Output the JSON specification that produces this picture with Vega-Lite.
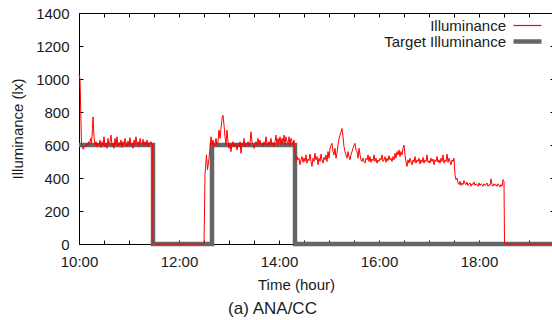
{
"$schema": "https://vega.github.io/schema/vega-lite/v6.json",
"width": 475, "height": 231,
"autosize": {"type": "none"},
"padding": {"left": 79, "top": 13, "right": 0, "bottom": 76},
"background": "white",
"config": {
  "view": {"stroke": null},
  "font": "Liberation Sans",
  "axis": {"labelFont": "Liberation Sans", "labelFontSize": 15, "labelColor": "#1a1a1a", "titleFont": "Liberation Sans", "titleFontSize": 15, "titleFontWeight": "normal", "titleColor": "#1a1a1a", "domainColor": "#000", "tickColor": "#000", "grid": false, "tickSize": -4, "domainWidth": 1, "tickWidth": 1, "labelFlush": false}
},
"title": {"text": "(a) ANA/CC", "orient": "bottom", "anchor": "middle", "frame": "group", "fontSize": 17, "fontWeight": "normal", "font": "Liberation Sans", "color": "#1a1a1a", "dx": -44, "offset": 9},
"datasets": {
"target": [{"t":10,"v":600},{"t":11.48,"v":0},{"t":12.66,"v":600},{"t":14.32,"v":0},{"t":19.5,"v":0}],
"illum": [
{"t":10.00,"v":1030},{"t":10.02,"v":1000},{"t":10.05,"v":600},{"t":10.07,"v":580},{"t":10.09,"v":575},{"t":10.11,"v":600},{"t":10.13,"v":590},{"t":10.15,"v":610},{"t":10.17,"v":595},{"t":10.19,"v":620},{"t":10.21,"v":600},{"t":10.23,"v":640},{"t":10.25,"v":610},{"t":10.27,"v":700},{"t":10.28,"v":770},{"t":10.30,"v":650},{"t":10.32,"v":600},{"t":10.34,"v":620},{"t":10.36,"v":590},{"t":10.38,"v":610},{"t":10.40,"v":600},{"t":10.42,"v":630},{"t":10.44,"v":585},{"t":10.46,"v":620},{"t":10.48,"v":600},{"t":10.50,"v":650},{"t":10.52,"v":590},{"t":10.54,"v":610},{"t":10.56,"v":580},{"t":10.58,"v":640},{"t":10.60,"v":600},{"t":10.62,"v":620},{"t":10.64,"v":660},{"t":10.66,"v":595},{"t":10.68,"v":610},{"t":10.70,"v":580},{"t":10.72,"v":640},{"t":10.74,"v":600},{"t":10.76,"v":650},{"t":10.78,"v":590},{"t":10.80,"v":615},{"t":10.82,"v":600},{"t":10.84,"v":630},{"t":10.86,"v":585},{"t":10.88,"v":620},{"t":10.90,"v":600},{"t":10.92,"v":640},{"t":10.94,"v":610},{"t":10.96,"v":590},{"t":10.98,"v":625},{"t":11.00,"v":600},{"t":11.02,"v":645},{"t":11.04,"v":595},{"t":11.06,"v":610},{"t":11.08,"v":580},{"t":11.10,"v":630},{"t":11.12,"v":600},{"t":11.14,"v":650},{"t":11.16,"v":605},{"t":11.18,"v":620},{"t":11.20,"v":590},{"t":11.22,"v":640},{"t":11.24,"v":610},{"t":11.26,"v":600},{"t":11.28,"v":635},{"t":11.30,"v":595},{"t":11.32,"v":620},{"t":11.34,"v":600},{"t":11.36,"v":630},{"t":11.38,"v":590},{"t":11.40,"v":615},{"t":11.42,"v":605},{"t":11.44,"v":620},{"t":11.46,"v":600},{"t":11.47,"v":610},{"t":11.48,"v":0},
{"t":12.50,"v":0},{"t":12.52,"v":420},{"t":12.55,"v":540},{"t":12.57,"v":450},{"t":12.60,"v":520},{"t":12.62,"v":580},{"t":12.64,"v":650},{"t":12.66,"v":600},{"t":12.68,"v":630},{"t":12.70,"v":590},{"t":12.72,"v":610},{"t":12.74,"v":640},{"t":12.76,"v":600},{"t":12.78,"v":620},{"t":12.80,"v":690},{"t":12.82,"v":640},{"t":12.84,"v":700},{"t":12.86,"v":760},{"t":12.88,"v":780},{"t":12.90,"v":720},{"t":12.92,"v":650},{"t":12.94,"v":600},{"t":12.96,"v":690},{"t":12.98,"v":620},{"t":13.00,"v":580},{"t":13.02,"v":610},{"t":13.04,"v":560},{"t":13.06,"v":600},{"t":13.08,"v":620},{"t":13.10,"v":590},{"t":13.12,"v":610},{"t":13.14,"v":600},{"t":13.16,"v":570},{"t":13.18,"v":610},{"t":13.20,"v":590},{"t":13.22,"v":620},{"t":13.24,"v":550},{"t":13.26,"v":610},{"t":13.28,"v":600},{"t":13.30,"v":640},{"t":13.32,"v":590},{"t":13.34,"v":610},{"t":13.36,"v":600},{"t":13.38,"v":620},{"t":13.40,"v":595},{"t":13.42,"v":610},{"t":13.44,"v":680},{"t":13.46,"v":620},{"t":13.48,"v":600},{"t":13.50,"v":580},{"t":13.52,"v":610},{"t":13.54,"v":620},{"t":13.56,"v":600},{"t":13.58,"v":640},{"t":13.60,"v":605},{"t":13.62,"v":630},{"t":13.64,"v":600},{"t":13.66,"v":610},{"t":13.68,"v":590},{"t":13.70,"v":620},{"t":13.72,"v":600},{"t":13.74,"v":650},{"t":13.76,"v":610},{"t":13.78,"v":595},{"t":13.80,"v":620},{"t":13.82,"v":600},{"t":13.84,"v":640},{"t":13.86,"v":600},{"t":13.88,"v":615},{"t":13.90,"v":590},{"t":13.92,"v":620},{"t":13.94,"v":660},{"t":13.96,"v":600},{"t":13.98,"v":640},{"t":14.00,"v":610},{"t":14.02,"v":650},{"t":14.04,"v":600},{"t":14.06,"v":640},{"t":14.08,"v":610},{"t":14.10,"v":660},{"t":14.12,"v":600},{"t":14.14,"v":650},{"t":14.16,"v":620},{"t":14.18,"v":610},{"t":14.20,"v":650},{"t":14.22,"v":600},{"t":14.24,"v":640},{"t":14.26,"v":620},{"t":14.28,"v":600},{"t":14.30,"v":630},
{"t":14.32,"v":560},{"t":14.34,"v":500},{"t":14.36,"v":530},{"t":14.38,"v":510},{"t":14.40,"v":520},{"t":14.42,"v":480},{"t":14.44,"v":510},{"t":14.46,"v":530},{"t":14.48,"v":495},{"t":14.50,"v":520},{"t":14.52,"v":500},{"t":14.54,"v":540},{"t":14.56,"v":490},{"t":14.58,"v":515},{"t":14.60,"v":505},{"t":14.62,"v":545},{"t":14.64,"v":500},{"t":14.66,"v":470},{"t":14.68,"v":520},{"t":14.70,"v":500},{"t":14.72,"v":550},{"t":14.74,"v":510},{"t":14.76,"v":530},{"t":14.78,"v":480},{"t":14.80,"v":520},{"t":14.82,"v":500},{"t":14.84,"v":545},{"t":14.86,"v":510},{"t":14.88,"v":490},{"t":14.90,"v":525},{"t":14.92,"v":510},{"t":14.94,"v":540},{"t":14.96,"v":500},{"t":14.98,"v":560},{"t":15.00,"v":520},{"t":15.02,"v":580},{"t":15.04,"v":600},{"t":15.06,"v":610},{"t":15.08,"v":560},{"t":15.10,"v":540},{"t":15.12,"v":580},{"t":15.14,"v":520},{"t":15.16,"v":550},{"t":15.18,"v":600},{"t":15.20,"v":640},{"t":15.22,"v":660},{"t":15.24,"v":680},{"t":15.26,"v":700},{"t":15.28,"v":650},{"t":15.30,"v":590},{"t":15.32,"v":560},{"t":15.34,"v":540},{"t":15.36,"v":520},{"t":15.38,"v":560},{"t":15.40,"v":530},{"t":15.42,"v":510},{"t":15.44,"v":540},{"t":15.46,"v":560},{"t":15.48,"v":580},{"t":15.50,"v":600},{"t":15.52,"v":610},{"t":15.54,"v":570},{"t":15.56,"v":560},{"t":15.58,"v":520},{"t":15.60,"v":580},{"t":15.62,"v":540},{"t":15.64,"v":510},{"t":15.66,"v":500},{"t":15.68,"v":520},{"t":15.70,"v":500},{"t":15.72,"v":490},{"t":15.74,"v":520},{"t":15.76,"v":510},{"t":15.78,"v":540},{"t":15.80,"v":500},{"t":15.82,"v":530},{"t":15.84,"v":495},{"t":15.86,"v":515},{"t":15.88,"v":505},{"t":15.90,"v":540},{"t":15.92,"v":500},{"t":15.94,"v":520},{"t":15.96,"v":490},{"t":15.98,"v":510},
{"t":16.00,"v":500},{"t":16.02,"v":520},{"t":16.04,"v":510},{"t":16.06,"v":540},{"t":16.08,"v":500},{"t":16.10,"v":510},{"t":16.12,"v":530},{"t":16.14,"v":495},{"t":16.16,"v":520},{"t":16.18,"v":505},{"t":16.20,"v":535},{"t":16.22,"v":510},{"t":16.24,"v":520},{"t":16.26,"v":500},{"t":16.28,"v":530},{"t":16.30,"v":510},{"t":16.32,"v":550},{"t":16.34,"v":520},{"t":16.36,"v":560},{"t":16.38,"v":540},{"t":16.40,"v":570},{"t":16.42,"v":530},{"t":16.44,"v":560},{"t":16.46,"v":540},{"t":16.48,"v":580},{"t":16.50,"v":600},{"t":16.52,"v":540},{"t":16.54,"v":500},{"t":16.56,"v":470},{"t":16.58,"v":510},{"t":16.60,"v":490},{"t":16.62,"v":520},{"t":16.64,"v":500},{"t":16.66,"v":480},{"t":16.68,"v":510},{"t":16.70,"v":495},{"t":16.72,"v":530},{"t":16.74,"v":490},{"t":16.76,"v":510},{"t":16.78,"v":500},{"t":16.80,"v":520},{"t":16.82,"v":485},{"t":16.84,"v":510},{"t":16.86,"v":495},{"t":16.88,"v":525},{"t":16.90,"v":490},{"t":16.92,"v":510},{"t":16.94,"v":500},{"t":16.96,"v":540},{"t":16.98,"v":495},{"t":17.00,"v":505},{"t":17.02,"v":490},{"t":17.04,"v":520},{"t":17.06,"v":500},{"t":17.08,"v":515},{"t":17.10,"v":480},{"t":17.12,"v":510},{"t":17.14,"v":500},{"t":17.16,"v":530},{"t":17.18,"v":495},{"t":17.20,"v":510},{"t":17.22,"v":490},{"t":17.24,"v":520},{"t":17.26,"v":500},{"t":17.28,"v":540},{"t":17.30,"v":490},{"t":17.32,"v":510},{"t":17.34,"v":500},{"t":17.36,"v":545},{"t":17.38,"v":495},{"t":17.40,"v":520},{"t":17.42,"v":500},{"t":17.44,"v":480},{"t":17.46,"v":510},{"t":17.48,"v":500},{"t":17.50,"v":520},
{"t":17.52,"v":420},{"t":17.54,"v":390},{"t":17.56,"v":400},{"t":17.58,"v":370},{"t":17.60,"v":360},{"t":17.62,"v":380},{"t":17.64,"v":355},{"t":17.66,"v":370},{"t":17.68,"v":360},{"t":17.70,"v":385},{"t":17.72,"v":365},{"t":17.74,"v":360},{"t":17.76,"v":375},{"t":17.78,"v":355},{"t":17.80,"v":365},{"t":17.82,"v":370},{"t":17.84,"v":350},{"t":17.86,"v":365},{"t":17.88,"v":360},{"t":17.90,"v":375},{"t":17.92,"v":355},{"t":17.94,"v":365},{"t":17.96,"v":360},{"t":17.98,"v":350},{"t":18.00,"v":370},{"t":18.02,"v":355},{"t":18.04,"v":365},{"t":18.06,"v":360},{"t":18.08,"v":350},{"t":18.10,"v":365},{"t":18.12,"v":355},{"t":18.14,"v":360},{"t":18.16,"v":370},{"t":18.18,"v":350},{"t":18.20,"v":360},{"t":18.22,"v":355},{"t":18.24,"v":395},{"t":18.26,"v":360},{"t":18.28,"v":350},{"t":18.30,"v":365},{"t":18.32,"v":355},{"t":18.34,"v":360},{"t":18.36,"v":350},{"t":18.38,"v":365},{"t":18.40,"v":355},{"t":18.42,"v":345},{"t":18.44,"v":360},{"t":18.46,"v":350},{"t":18.48,"v":390},{"t":18.50,"v":380},{"t":18.51,"v":0},{"t":19.50,"v":0}
]
},
"layer": [
  {
    "data": {"name": "target"},
    "mark": {"type": "line", "interpolate": "step-after", "strokeWidth": 4.5, "clip": false},
    "encoding": {
      "x": {"field": "t", "type": "quantitative", "scale": {"domain": [10, 19.5], "nice": false, "zero": false},
            "axis": {"orient": "top", "values": [10,10.5,11,11.5,12,12.5,13,13.5,14,14.5,15,15.5,16,16.5,17,17.5,18,18.5,19,19.5], "labels": false, "title": null}},
      "y": {"field": "v", "type": "quantitative", "scale": {"domain": [0, 1400], "nice": false},
            "axis": {"orient": "right", "values": [0,200,400,600,800,1000,1200,1400], "labels": false, "title": null}},
      "color": {"datum": "Target Illuminance", "type": "nominal",
        "scale": {"domain": ["Illuminance", "Target Illuminance"], "range": ["#ff0000", "#666666"]},
        "legend": {"title": null, "orient": "none", "legendX": 434, "legendY": 5, "padding": 0,
          "symbolType": "stroke", "symbolSize": 784,
          "labelAlign": "right", "labelOffset": -29, "symbolOffset": 7,
          "labelFont": "Liberation Sans", "labelFontSize": 15, "labelColor": "#1a1a1a", "rowPadding": -9,
          "encode": {"symbols": {"update": {"stroke": {"scale": "color", "field": "value"}, "opacity": {"value": 1}, "strokeWidth": {"signal": "datum.value === 'Target Illuminance' ? 4.5 : 1.2"}}}}}}
    }
  },
  {
    "data": {"name": "illum"},
    "mark": {"type": "line", "strokeWidth": 1, "clip": false},
    "encoding": {
      "x": {"field": "t", "type": "quantitative",
            "axis": {"orient": "bottom", "values": [10,10.5,11,11.5,12,12.5,13,13.5,14,14.5,15,15.5,16,16.5,17,17.5,18,18.5,19,19.5],
                     "labelExpr": "datum.value % 2 === 0 ? datum.value + ':00' : ''", "labelPadding": 14, "title": "Time (hour)", "titleX": 217, "titlePadding": 8}},
      "y": {"field": "v", "type": "quantitative",
            "axis": {"orient": "left", "format": "d", "values": [0,200,400,600,800,1000,1200,1400], "labelPadding": 14, "title": "Illuminance (lx)", "titlePadding": 10}},
      "color": {"datum": "Illuminance", "type": "nominal"}
    }
  }
],
"resolve": {"axis": {"x": "independent", "y": "independent"}}
}
